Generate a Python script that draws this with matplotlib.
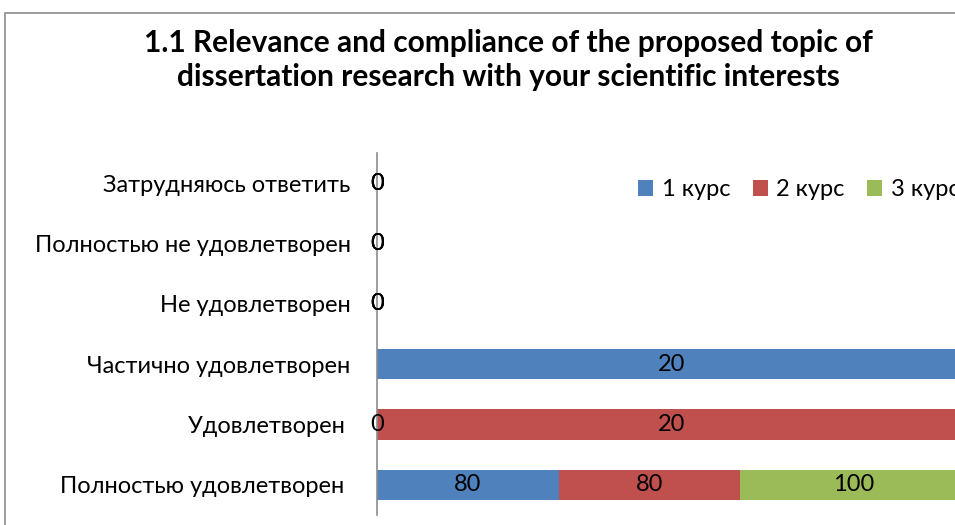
import matplotlib.pyplot as plt
import matplotlib.patches as patches
import numpy as np

plt.rcParams['font.family'] = ['Lato', 'DejaVu Sans']

# Dados do grafico (de baixo para cima)
categorias = ['Полностью удовлетворен ', 'Удовлетворен ', 'Частично удовлетворен',
              'Не удовлетворен', 'Полностью не удовлетворен', 'Затрудняюсь ответить']
series = ['1 курс', '2 курс', '3 курс']
curso1 = [80, 0, 20, 0, 0, 0]
curso2 = [80, 20, 0, 0, 0, 0]
curso3 = [100, 0, 0, 0, 0, 0]
cores = ['#4F81BD', '#C0504D', '#9BBB59']

valores = np.array([curso1, curso2, curso3], dtype=float)
totais = valores.sum(axis=0)
perc = np.divide(valores, totais, out=np.zeros_like(valores), where=totais > 0) * 100

fig = plt.figure(figsize=(9.55, 5.25), dpi=100)
ax = fig.add_axes([377/955, 1 - 515/525, 590/955, (515 - 153)/525])

# borda da area do grafico
fig.patches.append(patches.Rectangle((5/955, -0.1), 1.2, 1 - 13/525 + 0.1,
                                     transform=fig.transFigure, fill=False,
                                     edgecolor='#8c8c8c', linewidth=1.2))

y = np.arange(len(categorias))
esq = np.zeros(len(categorias))
for i in range(3):
    ax.barh(y, perc[i], left=esq, height=0.5, color=cores[i], label=series[i])
    for j in range(len(categorias)):
        ax.text(esq[j] + perc[i][j] / 2, y[j], f'{int(valores[i][j])}',
                ha='center', va='center', fontsize=17, color='black', clip_on=False)
    esq += perc[i]

ax.set_xlim(0, 100)
ax.set_ylim(-0.5, len(categorias) - 0.5)
ax.set_yticks(y)
ax.set_yticklabels(categorias, fontsize=17)
ax.tick_params(axis='y', length=0, pad=19)
ax.set_xticks([])
for s in ['top', 'right', 'bottom']:
    ax.spines[s].set_visible(False)
ax.spines['left'].set_color('#8c8c8c')
ax.spines['left'].set_linewidth(1.2)

fig.text(508/955, 1 - 60/525,
         '1.1 Relevance and compliance of the proposed topic of\n'
         'dissertation research with your scientific interests',
         ha='center', va='center', fontsize=21.5, fontweight='bold', linespacing=1.25)

ax.legend(loc='center left', bbox_to_anchor=(638/955, 1 - 190/525),
          bbox_transform=fig.transFigure, ncol=3, frameon=False, fontsize=17,
          borderpad=0, borderaxespad=0,
          handlelength=0.65, handleheight=0.65, handletextpad=0.35, columnspacing=0.95)

fig.savefig('out.png', dpi=100)
